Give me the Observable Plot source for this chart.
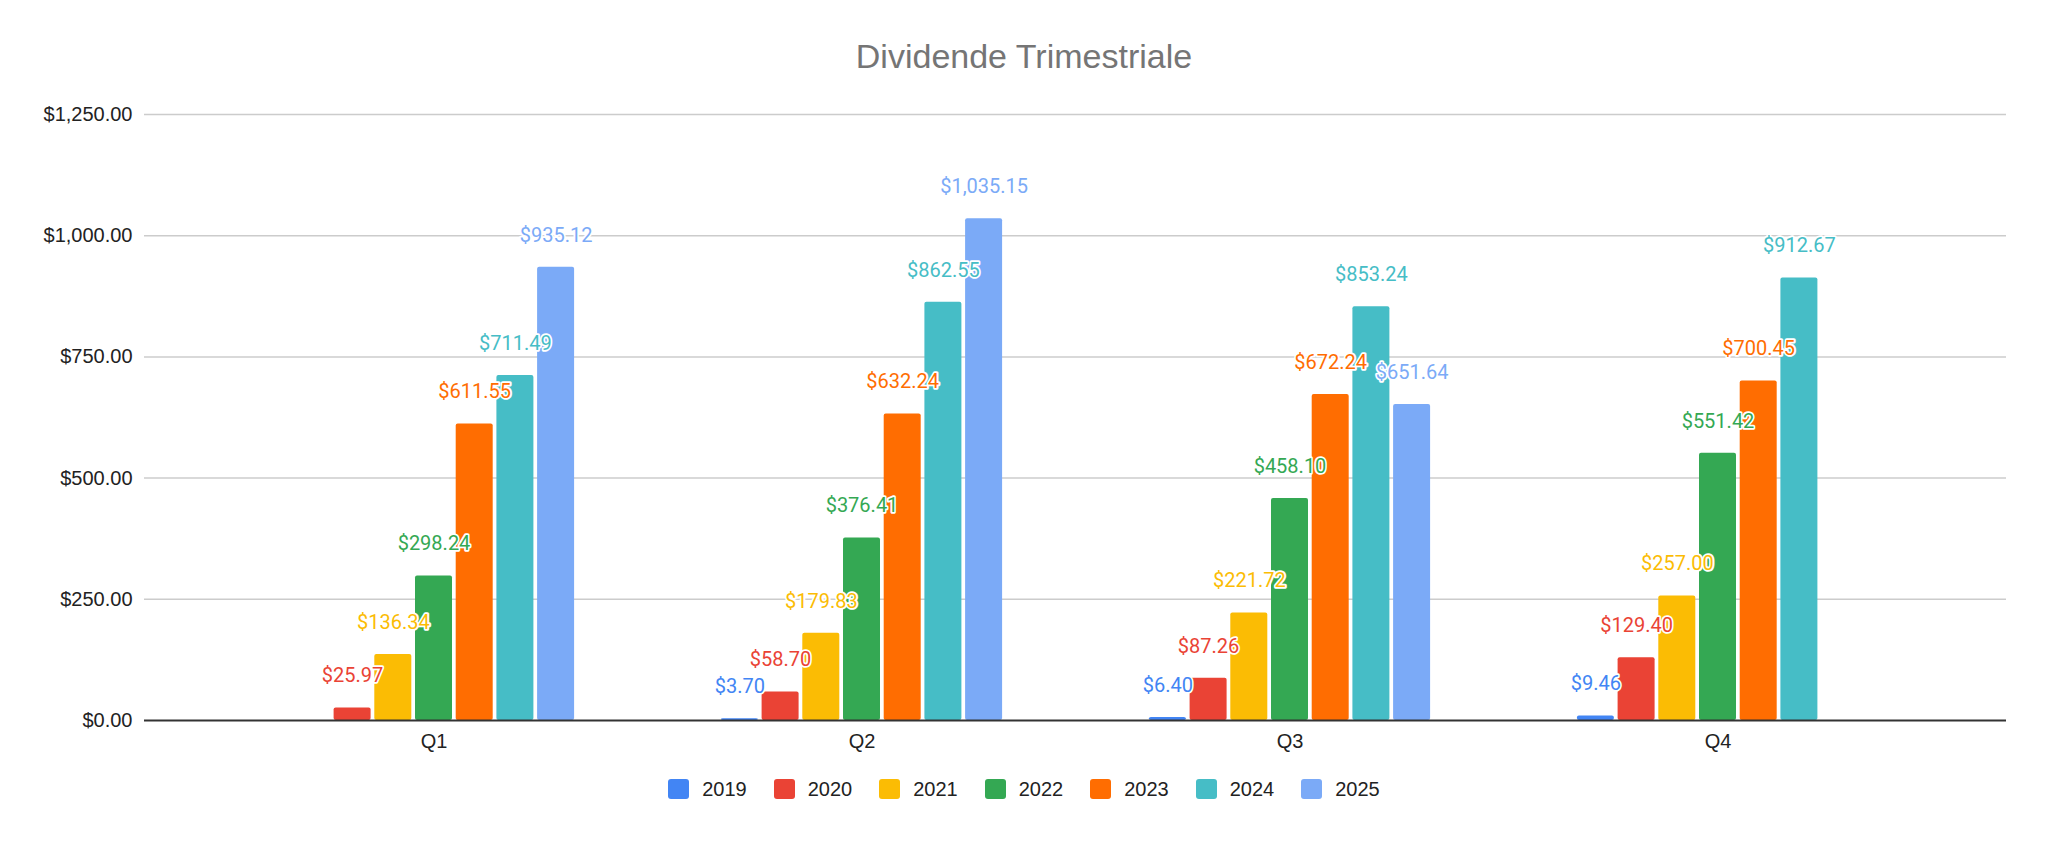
<!DOCTYPE html>
<html>
<head>
<meta charset="utf-8">
<script src="https://cdn.jsdelivr.net/npm/d3@7"></script>
<script src="https://cdn.jsdelivr.net/npm/@observablehq/plot@0.6"></script>
<style>
  html, body { margin: 0; padding: 0; background: #fff; }
  body { width: 2048px; height: 841px; overflow: hidden; font-family: "Liberation Sans", Arial, sans-serif; }
  #title { box-sizing: border-box; height: 90px; padding-top: 39px; text-align: center; font-size: 34px; line-height: 34px; color: #757575; }
  #chart svg { display: block; }
  #legend { height: 38px; display: flex; justify-content: center; align-items: center; font-size: 20px; color: #222; }
  .item { display: flex; align-items: center; margin-right: 27px; }
  .item:last-child { margin-right: 0; }
  .sw { width: 21px; height: 20px; border-radius: 3px; margin-right: 13px; }
</style>
</head>
<body>
<div id="title">Dividende Trimestriale</div>
<div id="chart"></div>
<div id="legend"></div>
<script>
// ---- data ----
const quarters = ["Q1", "Q2", "Q3", "Q4"];
const years = ["2019", "2020", "2021", "2022", "2023", "2024", "2025"];
const values2019 = [null, 3.70, 6.40, 9.46];
const values2020 = [25.97, 58.70, 87.26, 129.40];
const values2021 = [136.34, 179.83, 221.72, 257.00];
const values2022 = [298.24, 376.41, 458.10, 551.42];
const values2023 = [611.55, 632.24, 672.24, 700.45];
const values2024 = [711.49, 862.55, 853.24, 912.67];
const values2025 = [935.12, 1035.15, 651.64, null];
const yTicks = [0, 250, 500, 750, 1000, 1250];

// ---- styling ----
const palette = ["#4285F4", "#EA4335", "#FBBC04", "#34A853", "#FF6D01", "#46BDC6", "#7BAAF7"];
const series = [values2019, values2020, values2021, values2022, values2023, values2024, values2025];
const barStep = 40.7;
const money = d => "$" + d3.format(",.2f")(d);

const rowsByYear = years.map((year, i) =>
  quarters.map((q, j) => ({quarter: q, year, value: series[i][j]}))
          .filter(d => d.value != null)
);

const marks = [];
marks.push(Plot.ruleY(yTicks.filter(t => t > 0), {stroke: "#cccccc", strokeWidth: 1.5}));
rowsByYear.forEach((rows, i) => {
  marks.push(Plot.barY(rows, {x: "quarter", y: "value", fill: palette[i], dx: (i - 3) * barStep, rx: 2}));
});
marks.push(Plot.ruleY([0], {stroke: "#333333", strokeWidth: 2}));
rowsByYear.forEach((rows, i) => {
  marks.push(Plot.text(rows, {
    x: "quarter", y: "value", text: d => money(d.value),
    dx: (i - 3) * barStep, dy: -32,
    fill: palette[i], stroke: "white", strokeWidth: 3.5, paintOrder: "stroke", strokeLinejoin: "round",
    fontSize: 20, fontFamily: "Roboto"
  }));
});

const chart = Plot.plot({
  width: 2048,
  height: 680,
  marginLeft: 144,
  marginRight: 42,
  marginTop: 24,
  marginBottom: 50,
  style: {fontSize: "20px", fontFamily: "'Liberation Sans', Arial, sans-serif", color: "#222", background: "white"},
  x: {domain: quarters, paddingInner: 0.9136, paddingOuter: 0.6308, align: 0.5, tickSize: 0, tickPadding: 13, label: null},
  y: {domain: [0, 1250], ticks: yTicks, tickFormat: money, tickSize: 0, tickPadding: 12, label: null},
  marks
});
document.getElementById("chart").appendChild(chart);

const legend = document.getElementById("legend");
years.forEach((y, i) => {
  const item = document.createElement("div");
  item.className = "item";
  const sw = document.createElement("div");
  sw.className = "sw";
  sw.style.background = palette[i];
  const lab = document.createElement("span");
  lab.textContent = y;
  item.appendChild(sw);
  item.appendChild(lab);
  legend.appendChild(item);
});
</script>
</body>
</html>
